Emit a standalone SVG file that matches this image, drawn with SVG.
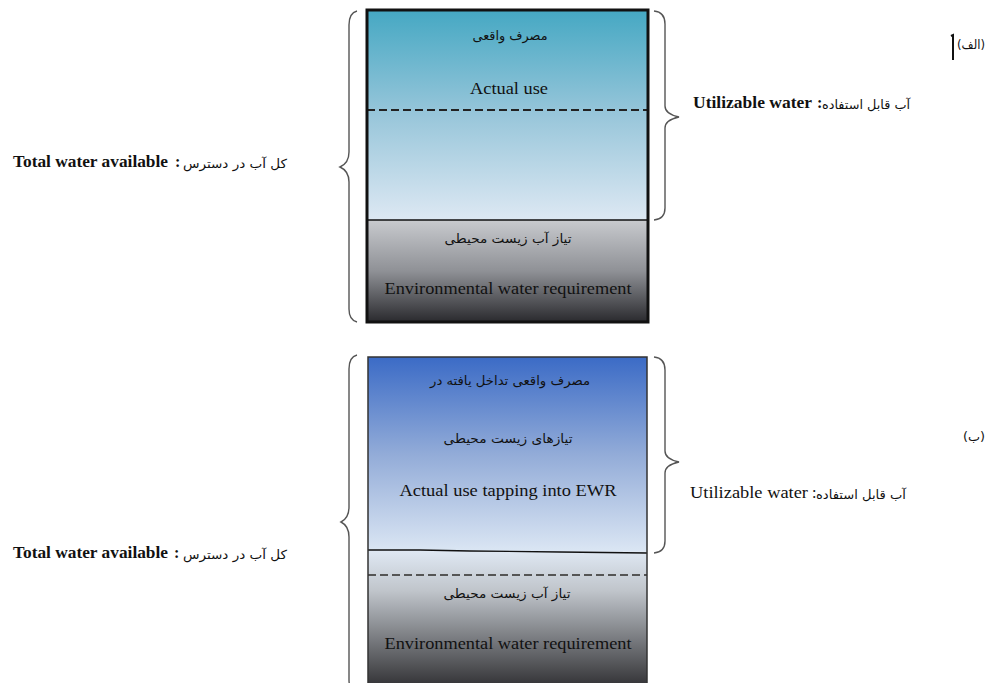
<svg xmlns="http://www.w3.org/2000/svg" width="986" height="683" viewBox="0 0 986 683">
<defs>
<linearGradient id="gTopUp" x1="0" y1="0" x2="0" y2="1"><stop offset="0" stop-color="#45a8c3"/><stop offset="0.5" stop-color="#98c6da"/><stop offset="1" stop-color="#dde8f3"/></linearGradient>
<linearGradient id="gTopLow" x1="0" y1="0" x2="0" y2="1"><stop offset="0" stop-color="#c8cace"/><stop offset="0.5" stop-color="#8f9196"/><stop offset="1" stop-color="#2a2a2e"/></linearGradient>
<linearGradient id="gBotUp" x1="0" y1="0" x2="0" y2="1"><stop offset="0" stop-color="#3b6bc6"/><stop offset="0.5" stop-color="#93acd8"/><stop offset="1" stop-color="#dce7f4"/></linearGradient>
<linearGradient id="gBotLow" x1="0" y1="0" x2="0" y2="1"><stop offset="0" stop-color="#dfe8f3"/><stop offset="0.3" stop-color="#c0c5cb"/><stop offset="1" stop-color="#38383b"/></linearGradient>
</defs>
<style>
.en{font-family:"Liberation Serif","Times New Roman",serif;font-size:16px;fill:#111}
.fa{font-family:"DejaVu Sans","Noto Sans",sans-serif;font-size:12.5px;fill:#111;direction:rtl}
.brace{fill:none;stroke:#555;stroke-width:1.4}
.sep{stroke:#111;stroke-width:1.3;fill:none}
.dash{stroke-width:2;stroke-dasharray:8 4;fill:none}
</style>
<rect width="986" height="683" fill="#fff"/>

<g id="box-a">
<rect x="367" y="10" width="281" height="210" fill="url(#gTopUp)"/>
<rect x="367" y="220" width="281" height="102" fill="url(#gTopLow)"/>
<line x1="367" y1="110" x2="648" y2="110" class="dash" stroke="#222"/>
<line x1="367" y1="220" x2="648" y2="220" class="sep"/>
<rect x="367" y="10" width="281" height="312" fill="none" stroke="#111" stroke-width="3"/>
<text class="fa" x="510" y="40" text-anchor="middle" textLength="75" lengthAdjust="spacingAndGlyphs">مصرف واقعی</text>
<text class="en" x="509" y="94" text-anchor="middle" textLength="78" lengthAdjust="spacingAndGlyphs">Actual use</text>
<text class="fa" x="508" y="243" text-anchor="middle" textLength="127" lengthAdjust="spacingAndGlyphs">تیاز آب زیست محیطی</text>
<text class="en" x="508" y="294" text-anchor="middle" textLength="247" lengthAdjust="spacingAndGlyphs">Environmental water requirement</text>
</g>

<g id="box-b">
<rect x="368" y="357" width="279" height="196" fill="url(#gBotUp)"/>
<rect x="368" y="551" width="279" height="132" fill="url(#gBotLow)"/>
<path d="M368 550 L420 550 L470 551 L560 552 L647 553" class="sep" stroke="#222"/>
<line x1="368" y1="575" x2="647" y2="575" class="dash" stroke="#555"/>
<path d="M368 683 L368 357 L647 357 L647 683" fill="none" stroke="#333" stroke-width="1.5"/>
<text class="fa" x="510" y="385" text-anchor="middle" textLength="160" lengthAdjust="spacingAndGlyphs">مصرف واقعی تداخل یافته در</text>
<text class="fa" x="508" y="443" text-anchor="middle" textLength="129" lengthAdjust="spacingAndGlyphs">تیازهای زیست محیطی</text>
<text class="en" x="508" y="496" text-anchor="middle" textLength="217" lengthAdjust="spacingAndGlyphs">Actual use tapping into EWR</text>
<text class="fa" x="507" y="598" text-anchor="middle" textLength="127" lengthAdjust="spacingAndGlyphs">تیاز آب زیست محیطی</text>
<text class="en" x="508" y="649" text-anchor="middle" textLength="247" lengthAdjust="spacingAndGlyphs">Environmental water requirement</text>
</g>

<g id="connectors">
<path class="brace" d="M357 11 Q349 13 349 25 L349 152 Q349 163 340 167 Q349 171 349 182 L349 309 Q349 320 357 322"/>
<path class="brace" d="M357 355 Q349 357 349 369 L349 507 Q349 518 341 522 Q349 526 349 537 L349 680 Q349 690 357 692"/>
<path class="brace" d="M654 11 Q665 12 665 24 L665 106 Q665 114 679 117 Q665 120 665 128 L665 208 Q665 219 654 220"/>
<path class="brace" d="M654 357 Q665 358 665 370 L665 451 Q665 459 679 462 Q665 465 665 473 L665 541 Q665 552 654 553"/>
</g>

<g id="label-total-a">
<text class="en" x="13" y="167" font-weight="bold" textLength="155" lengthAdjust="spacingAndGlyphs">Total water available</text>
<text class="en" x="175" y="167" font-weight="bold">:</text>
<text class="fa" x="235" y="168" text-anchor="middle" textLength="104" lengthAdjust="spacingAndGlyphs">کل آب در دسترس</text>
</g>
<g id="label-util-a">
<text class="en" x="693" y="108" font-weight="bold" textLength="119" lengthAdjust="spacingAndGlyphs">Utilizable water</text>
<text class="en" x="817" y="108" font-weight="bold">:</text>
<text class="fa" x="866" y="109" text-anchor="middle" textLength="88" lengthAdjust="spacingAndGlyphs">آب قابل استفاده</text>
</g>
<g id="label-total-b">
<text class="en" x="13" y="558" font-weight="bold" textLength="155" lengthAdjust="spacingAndGlyphs">Total water available</text>
<text class="en" x="174" y="558" font-weight="bold">:</text>
<text class="fa" x="235" y="559" text-anchor="middle" textLength="104" lengthAdjust="spacingAndGlyphs">کل آب در دسترس</text>
</g>
<g id="label-util-b">
<text class="en" x="690" y="498" textLength="118" lengthAdjust="spacingAndGlyphs">Utilizable water</text>
<text class="en" x="812" y="498">:</text>
<text class="fa" x="861" y="499" text-anchor="middle" textLength="90" lengthAdjust="spacingAndGlyphs">آب قابل استفاده</text>
</g>
<g id="tag-a">
<path d="M951 36 L953 35 L953 60" fill="none" stroke="#111" stroke-width="2"/>
<text class="fa" x="971" y="49" text-anchor="middle" font-size="10" textLength="28" lengthAdjust="spacingAndGlyphs">(الف)</text>
</g>
<g id="tag-b">
<text class="fa" x="974" y="441" text-anchor="middle" font-size="10" textLength="22" lengthAdjust="spacingAndGlyphs">(ب)</text>
</g>
</svg>
